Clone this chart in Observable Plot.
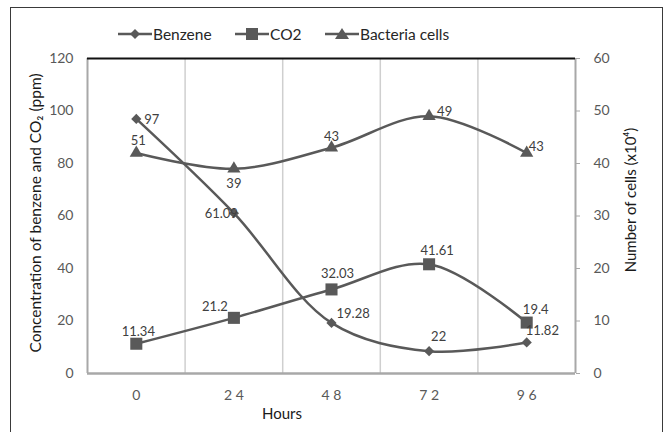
<!DOCTYPE html>
<html><head><meta charset="utf-8">
<script src="https://cdn.jsdelivr.net/npm/d3@7"></script>
<script src="https://cdn.jsdelivr.net/npm/@observablehq/plot@0.6"></script>
<style>
body{margin:0;background:#fff;}
#wrap{position:relative;width:665px;height:432px;overflow:hidden;font-family:Lato,"Open Sans",sans-serif;}
#frame{position:absolute;left:10px;top:7px;width:653px;height:440px;border:1.5px solid #3a3a3a;box-sizing:border-box;}
#chart{position:absolute;left:0;top:0;}
.leg{position:absolute;top:25px;display:flex;align-items:center;font-size:15.5px;color:#262626;white-space:nowrap;}
.leg svg{display:block;}
.title{position:absolute;font-size:15px;color:#1a1a1a;white-space:nowrap;}
</style></head>
<body><div id="wrap"><div id="frame"></div><div id="chart"></div>
<div class="leg" id="leg0" style="left:118px"></div>
<div class="leg" id="leg1" style="left:235px"></div>
<div class="leg" id="leg2" style="left:325px"></div>
<div class="title" id="ytitle">Concentration of benzene and CO₂ (ppm)</div>
<div class="title" id="y2title">Number of cells (x10⁴)</div>
<div class="title" id="xtitle">Hours</div>
</div>
<script>
// ---- data ----
const hours = [0, 24, 48, 72, 96];
const xTickLabels = ["0", "2 4", "4 8", "7 2", "9 6"];
const benzene = [97, 61.09, 19.28, 8.5, 11.82];
const benzeneLabels = ["97", "61.09", "19.28", "22", "11.82"];
const co2 = [11.34, 21.2, 32.03, 41.61, 19.4];
const co2Labels = ["11.34", "21.2", "32.03", "41.61", "19.4"];
const cells = [42, 39, 43, 49, 42];
const cellsLabels = ["51", "39", "43", "49", "43"];
const leftTicks = [0, 20, 40, 60, 80, 100, 120];
const rightTicks = [0, 10, 20, 30, 40, 50, 60];
const seriesNames = ["Benzene", "CO2", "Bacteria cells"];

// right axis (0-60) mapped onto left scale (0-120)
const k = 120 / 60;
const rows = hours.map((h, i) => ({
  h, i,
  benzene: benzene[i], bl: benzeneLabels[i],
  co2: co2[i], cl: co2Labels[i],
  cells: cells[i] * k, kl: cellsLabels[i]
}));
const col = "#595959";
const lab = "#404040";
const pick = idx => rows.filter(d => idx.includes(d.i));

const chart = Plot.plot({
  width: 665, height: 432,
  marginLeft: 87, marginRight: 90, marginTop: 58, marginBottom: 59,
  style: {fontFamily: "Lato, 'Open Sans', sans-serif", fontSize: "14px", color: col, background: "transparent"},
  x: {type: "linear", domain: [-12, 108]},
  y: {domain: [0, 120]},
  marks: [
    Plot.ruleX([12, 36, 60, 84], {stroke: "#cfcfcf", strokeWidth: 1.5}),
    Plot.ruleX([-12, 108], {stroke: "#a8a8a8", strokeWidth: 2}),
    Plot.ruleY([0], {stroke: "#a8a8a8", strokeWidth: 2.5}),
    Plot.ruleY([120], {stroke: "#111", strokeWidth: 2}),
    Plot.axisY({ticks: leftTicks, tickSize: 0, tickPadding: 14, label: null, fontSize: 14}),
    Plot.axisY({anchor: "right", ticks: rightTicks.map(v => v * k), tickFormat: d => d / k, tickSize: 4, stroke: "#a8a8a8", tickPadding: 14, label: null, fontSize: 14}),
    Plot.axisX({ticks: hours, tickFormat: (d) => xTickLabels[hours.indexOf(d)], tickSize: 0, tickPadding: 17, label: null, fontSize: 14}),
    Plot.line(rows, {x: "h", y: "benzene", curve: "catmull-rom", stroke: col, strokeWidth: 2.5}),
    Plot.line(rows, {x: "h", y: "co2", curve: "catmull-rom", stroke: col, strokeWidth: 2.5}),
    Plot.line(rows, {x: "h", y: "cells", curve: "catmull-rom", stroke: col, strokeWidth: 2.5}),
    Plot.dot(rows, {x: "h", y: "benzene", symbol: "diamond2", r: 4.6, fill: col, stroke: "none"}),
    Plot.dot(rows, {x: "h", y: "co2", symbol: "square", r: 6.8, fill: col, stroke: "none"}),
    Plot.dot(rows, {x: "h", y: "cells", symbol: "triangle", r: 4.9, fill: col, stroke: "none"}),
    // benzene labels
    Plot.text(pick([0]), {x: "h", y: "benzene", text: "bl", textAnchor: "start", dx: 8, dy: 1, fill: lab, fontSize: 13}),
    Plot.text(pick([1]), {x: "h", y: "benzene", text: "bl", textAnchor: "end", dx: 4, dy: 1, fill: lab, fontSize: 13}),
    Plot.text(pick([2]), {x: "h", y: "benzene", text: "bl", textAnchor: "start", dx: 5, dy: -9, fill: lab, fontSize: 13}),
    Plot.text(pick([3]), {x: "h", y: "benzene", text: "bl", textAnchor: "start", dx: 2, dy: -14, fill: lab, fontSize: 13}),
    Plot.text(pick([4]), {x: "h", y: "benzene", text: "bl", textAnchor: "start", dx: -1, dy: -12, fill: lab, fontSize: 13}),
    // co2 labels
    Plot.text(pick([0]), {x: "h", y: "co2", text: "cl", dx: 2, dy: -12, fill: lab, fontSize: 13}),
    Plot.text(pick([1]), {x: "h", y: "co2", text: "cl", dx: -19, dy: -11, fill: lab, fontSize: 13}),
    Plot.text(pick([2]), {x: "h", y: "co2", text: "cl", dx: 6, dy: -16, fill: lab, fontSize: 13}),
    Plot.text(pick([3]), {x: "h", y: "co2", text: "cl", dx: 8, dy: -13, fill: lab, fontSize: 13}),
    Plot.text(pick([4]), {x: "h", y: "co2", text: "cl", dx: 9, dy: -13, fill: lab, fontSize: 13}),
    // cells labels
    Plot.text(pick([0]), {x: "h", y: "cells", text: "kl", dx: 2, dy: -12, fill: lab, fontSize: 13}),
    Plot.text(pick([1]), {x: "h", y: "cells", text: "kl", dx: 0, dy: 15, fill: lab, fontSize: 13}),
    Plot.text(pick([2]), {x: "h", y: "cells", text: "kl", dx: 0, dy: -11, fill: lab, fontSize: 13}),
    Plot.text(pick([3]), {x: "h", y: "cells", text: "kl", textAnchor: "start", dx: 8, dy: -4, fill: lab, fontSize: 13}),
    Plot.text(pick([4]), {x: "h", y: "cells", text: "kl", textAnchor: "start", dx: 2, dy: -6, fill: lab, fontSize: 13})
  ]
});
document.getElementById("chart").appendChild(chart);

// legend
const icons = [
  '<polygon points="17,3 22,8 17,13 12,8" fill="' + col + '"/>',
  '<rect x="11" y="2" width="12" height="12" fill="' + col + '"/>',
  '<polygon points="17,2 24,13 10,13" fill="' + col + '"/>'
];
seriesNames.forEach((name, i) => {
  const el = document.getElementById("leg" + i);
  el.innerHTML = '<svg width="34" height="16"><line x1="0" x2="34" y1="8" y2="8" stroke="' + col + '" stroke-width="2.5"/>' + icons[i] + '</svg><span style="margin-left:1px">' + name + '</span>';
});

// axis titles
const yt = document.getElementById("ytitle");
yt.style.left = "35px"; yt.style.top = "213px"; yt.style.fontSize = "15.5px";
yt.style.transform = "translate(-50%,-50%) rotate(-90deg)";
const y2t = document.getElementById("y2title");
y2t.style.left = "630px"; y2t.style.top = "200px"; y2t.style.fontSize = "15px";
y2t.style.transform = "translate(-50%,-50%) rotate(-90deg)";
const xt = document.getElementById("xtitle");
xt.style.left = "282px"; xt.style.top = "413px"; xt.style.fontSize = "15px";
xt.style.transform = "translate(-50%,-50%)";
</script>
</body></html>
